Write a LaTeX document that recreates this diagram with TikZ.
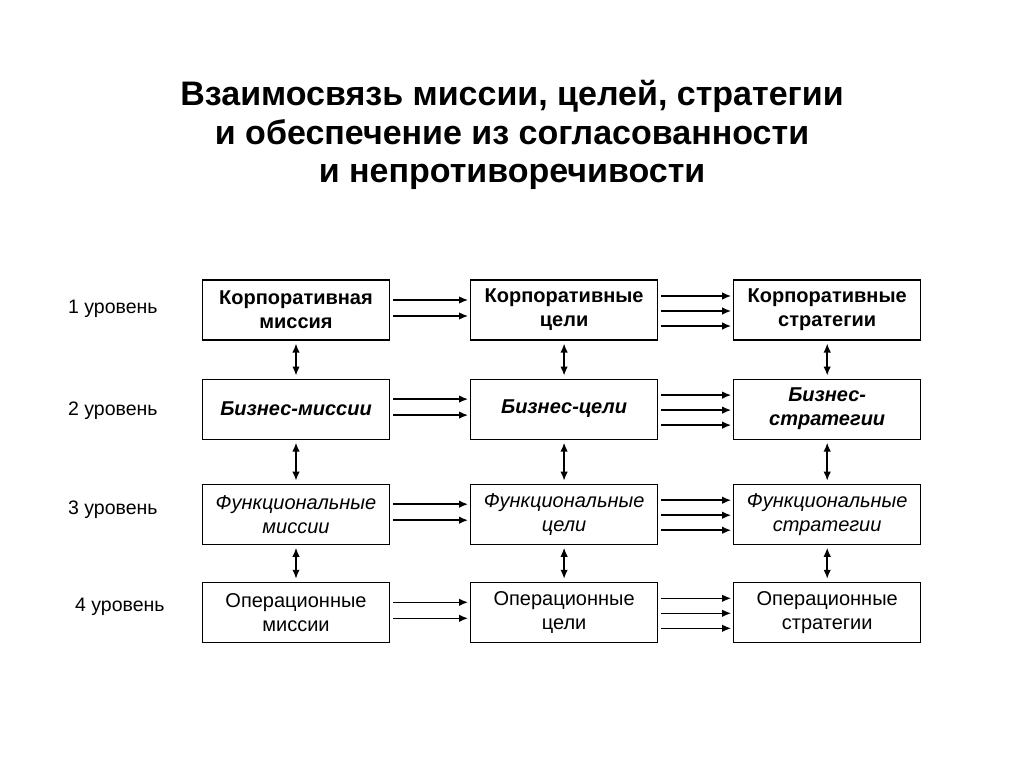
\documentclass[tikz,border=0pt]{standalone}
\usepackage{fontspec}
\setmainfont{Liberation Sans}
\usetikzlibrary{arrows.meta,positioning}
\newcommand\boxfont{\fontsize{20}{24}\selectfont}
\tikzset{
    -{Latex[length=9pt,width=7.5pt]},semithick,
    level/.style={anchor=west,inner sep=0pt,font=\fontsize{19.5}{24}\selectfont},
    twoway/.style={{Latex[length=9pt,width=7.5pt]}-{Latex[length=9pt,width=7.5pt]}}
}
\begin{document}
\begin{tikzpicture}[x=1pt,y=-1pt,
box/.style={rectangle,draw,line width=1.1pt,inner sep=2pt,minimum width=187pt,minimum height=60pt,align=center},
corp/.style={box,font=\boxfont\bfseries},
biz/.style={box,font=\boxfont\bfseries\itshape},
func/.style={box,font=\boxfont\itshape},
oper/.style={box,font=\boxfont},
paths/.style={line width=1.5pt,shorten <=3pt,shorten >=2pt}]
\useasboundingbox (0,0) rectangle (1024,767);
\node [font=\fontsize{34}{38.5}\selectfont\bfseries,align=center] (title) at (512,135)
  {Взаимосвязь миссии, целей, стратегии\\и обеспечение из согласованности\\и непротиворечивости};
% missions
\node [corp] (KM) at (296,310) {Корпоративная\\миссия};
\node [biz] (BM) [below=38pt of KM] {Бизнес-миссии};
\node [func] (FM) [below=44pt of BM] {Функциональные\\миссии};
\node [oper] (OM) [below=37pt of FM] {Операционные\\миссии};
% goals
\node [corp] (KC) [right=80pt of KM] {Корпоративные\\цели};
\node [biz] (BC) [right=80pt of BM] {Бизнес-цели};
\node [func] (FC) [right=80pt of FM] {Функциональные\\цели};
\node [oper] (OC) [right=80pt of OM] {Операционные\\цели};
% strategies
\node [corp] (KS) [right=75pt of KC] {Корпоративные\\стратегии};
\node [biz] (BS) [right=75pt of BC] {Бизнес-\\стратегии};
\node [func] (FS) [right=75pt of FC] {Функциональные\\стратегии};
\node [oper] (OS) [right=75pt of OC] {Операционные\\стратегии};
% levels
\node [level] (L1) at (68,309) {1 уровень};
\node [level] (L2) at (68,411) {2 уровень};
\node [level] (L3) at (68,510) {3 уровень};
\node [level] (L4) at (75,607) {4 уровень};
\foreach \a/\b in {KM/KC, BM/BC, FM/FC, OM/OC}
  \foreach \dy in {10,-6}
    \draw [paths] ([yshift=\dy pt]\a.east) -- ([yshift=\dy pt]\b.west);
\foreach \a/\b in {KC/KS, BC/BS, FC/FS, OC/OS}
  \foreach \dy in {14,-1,-16}
    \draw [paths] ([yshift=\dy pt]\a.east) -- ([yshift=\dy pt]\b.west);
\foreach \a/\b in {KM/BM, BM/FM, FM/OM, KC/BC, BC/FC, FC/OC, KS/BS, BS/FS, FS/OS}
  \draw [paths,twoway,shorten >=3pt] (\a) -- (\b);
\end{tikzpicture}
\end{document}
